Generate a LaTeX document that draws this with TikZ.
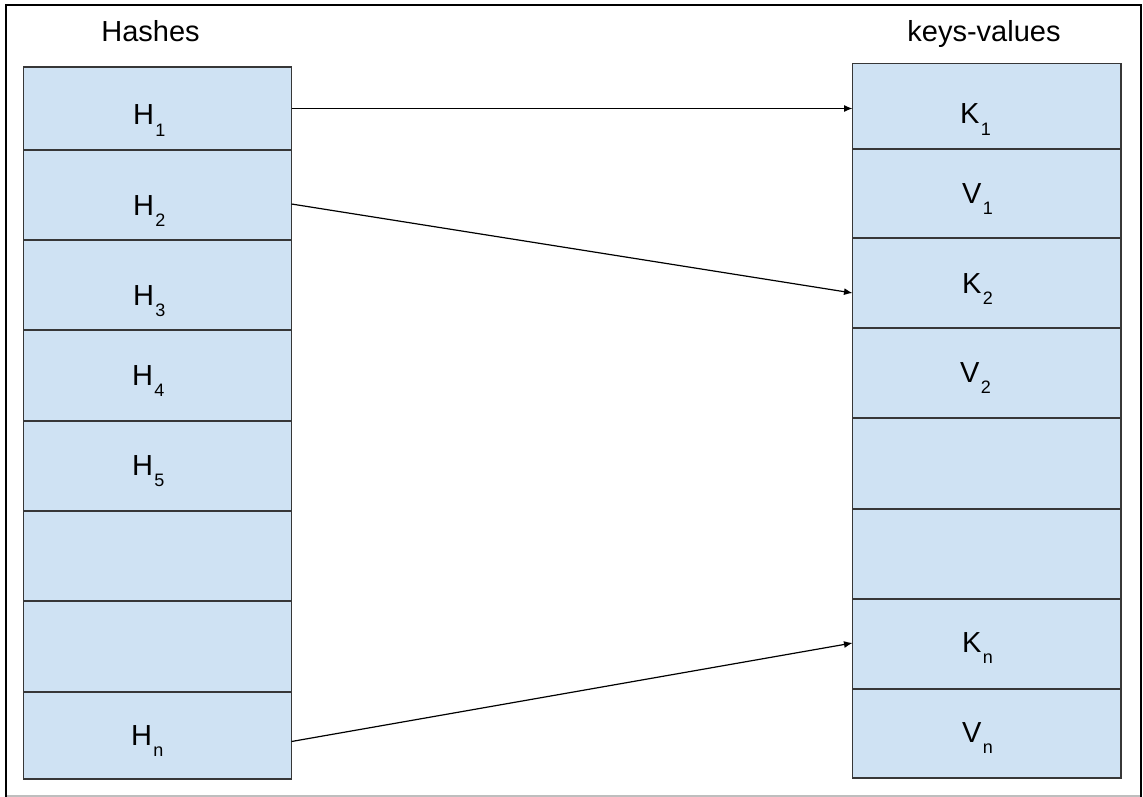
\documentclass[tikz,border=0pt]{standalone}
\usepackage{fontspec}
\setmainfont{Liberation Sans}
\usetikzlibrary{arrows.meta,calc}
\definecolor{cellblue}{RGB}{207,226,243}
\definecolor{celledge}{RGB}{55,55,55}
\definecolor{framegray}{RGB}{190,190,190}
\newcommand{\lbl}[2]{#1\kern1.5pt\raisebox{-11.5pt}{\fontsize{18}{18}\selectfont #2}}
\begin{document}
\begin{tikzpicture}[x=1pt,y=-1pt,
  cell/.style={draw=celledge,fill=cellblue,line width=1.4pt,rectangle,inner sep=0pt,outer sep=0pt,minimum width=268pt},
  rcell/.style={cell,minimum width=268.5pt},
  txt/.style={inner sep=0pt,outer sep=0pt,anchor=base west,font=\fontsize{29}{30}\selectfont},
  head/.style={inner sep=0pt,outer sep=0pt,anchor=base,font=\fontsize{29}{30}\selectfont},
  link/.style={draw=black,line width=1.2pt,-{Latex[length=8.5pt,width=7pt]}}]
\useasboundingbox (0,0) rectangle (1143,797);
\fill[white] (0,0) rectangle (1143,797);
% frame
\draw[framegray,line width=1.5pt] (6,796) -- (1141,796);
\draw[black,line width=2pt] (6,797) -- (6,5) -- (1141,5) -- (1141,797);
% headings
\node[head] (hhead) at (150.5,42) {Hashes};
\node[head] (khead) at (984,42) {keys-values};
% left column cells
\node[cell,minimum height=83pt] (h1) at (157.5,108.5) {};
\node[cell,minimum height=90pt] (h2) at (157.5,195) {};
\node[cell,minimum height=90pt] (h3) at (157.5,285) {};
\node[cell,minimum height=91pt] (h4) at (157.5,375.5) {};
\node[cell,minimum height=90pt] (h5) at (157.5,466) {};
\node[cell,minimum height=90pt] (h6) at (157.5,556) {};
\node[cell,minimum height=91pt] (h7) at (157.5,646.5) {};
\node[cell,minimum height=87pt] (hn) at (157.5,735.5) {};
% right column cells
\node[rcell,minimum height=85.5pt] (k1) at (986.75,106.25) {};
\node[rcell,minimum height=89pt] (v1) at (986.75,193.5) {};
\node[rcell,minimum height=90pt] (k2) at (986.75,283) {};
\node[rcell,minimum height=90pt] (v2) at (986.75,373) {};
\node[rcell,minimum height=91pt] (r5) at (986.75,463.5) {};
\node[rcell,minimum height=90pt] (r6) at (986.75,554) {};
\node[rcell,minimum height=90pt] (kn) at (986.75,644) {};
\node[rcell,minimum height=89pt] (vn) at (986.75,733.5) {};
% labels
\node[txt] (th1) at (133,125) {\lbl{H}{1}};
\node[txt] (th2) at (133,215) {\lbl{H}{2}};
\node[txt] (th3) at (133,305) {\lbl{H}{3}};
\node[txt] (th4) at (132,385) {\lbl{H}{4}};
\node[txt] (th5) at (132,475) {\lbl{H}{5}};
\node[txt] (thn) at (131,745) {\lbl{H}{n}};
\node[txt] (tk1) at (960,124) {\lbl{K}{1}};
\node[txt] (tv1) at (962,203) {\lbl{V}{1}};
\node[txt] (tk2) at (962,293) {\lbl{K}{2}};
\node[txt] (tv2) at (960,382) {\lbl{V}{2}};
\node[txt] (tkn) at (962,652) {\lbl{K}{n}};
\node[txt] (tvn) at (962,742) {\lbl{V}{n}};
% connectors
\draw[link] (h1.east) -- (k1.west |- h1.east);
\draw[link] ([yshift=-9pt]h2.east) -- ([yshift=-10pt]k2.west);
\draw[link] ([yshift=-6pt]hn.east) -- ([yshift=1pt]kn.west);
\end{tikzpicture}
\end{document}
